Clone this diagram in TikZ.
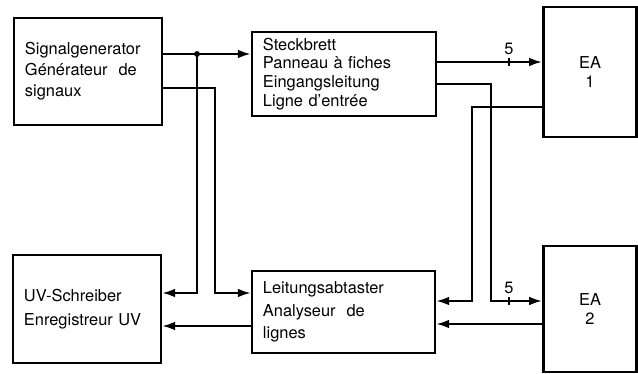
\documentclass[tikz,border=0pt]{standalone}
\usepackage{fontspec}
\setmainfont{TeX Gyre Heros}
\usetikzlibrary{arrows.meta}

\begin{document}
\begin{tikzpicture}[
            x=0.03cm, y=-0.03cm,
            box/.style={rectangle, draw=black, line width=2.5pt, inner xsep=0.33cm, inner ysep=0pt, align=left, font=\fontsize{14}{16}\selectfont},
            eabox/.style={rectangle, draw=black, line width=2.5pt, align=center, minimum width=2.8cm, font=\fontsize{14}{17}\selectfont},
            arrow/.style={-{Latex[length=0.38cm, width=0.26cm]}, line width=1.6pt},
            tick/.style={line width=1.6pt},
            num/.style={font=\fontsize{14}{16}\selectfont, inner sep=0pt}
        ]
        \useasboundingbox (0,0) rectangle (638,374);

        % Blocks
        \node[box, text width=3.78cm, minimum height=3.21cm] (sig) at (88,71.5) {Signalgenerator\\[2pt]G\'en\'erateur\ \ de\\[2pt]signaux};
        \node[box, text width=4.86cm, minimum height=2.52cm] (steck) at (344,74) {Steckbrett\\Panneau \`a fiches\\Eingangsleitung\\Ligne d’entr\'ee};
        \node[eabox, minimum height=3.9cm] (ea1) at (590,72) {EA\\1};
        \node[box, text width=3.78cm, minimum height=3.24cm] (uv) at (87,309) {UV-Schreiber\\[4pt]Enregistreur\ UV};
        \node[box, text width=4.83cm, minimum height=2.46cm] (leit) at (343.5,312) {Leitungsabtaster\\[3pt]Analyseur\ \ de\\[3pt]lignes};
        \node[eabox, minimum height=3.78cm] (ea2) at (590,309) {EA\\2};

        % Rows and columns of the lines
        \coordinate (r1) at (0,54);
        \coordinate (r2) at (0,88);
        \coordinate (r3) at (0,62);
        \coordinate (r4) at (0,84);
        \coordinate (r5) at (0,107);
        \coordinate (r6) at (0,293);
        \coordinate (r7) at (0,301);
        \coordinate (r8) at (0,326);
        \coordinate (r9) at (0,324);
        \coordinate (c1) at (197,0);
        \coordinate (c2) at (215,0);
        \coordinate (c3) at (472,0);
        \coordinate (c4) at (491,0);
        \coordinate (c5) at (509,0);

        % Arrows
        \draw[arrow] (sig.east |- r1) -- (steck.west |- r1);
        \fill (c1 |- r1) circle (2.5pt);
        \draw[arrow] (c1 |- r1) |- (uv.east |- r6);
        \draw[arrow] (sig.east |- r2) -| (c2 |- r6) -- (leit.west |- r6);
        \draw[arrow] (leit.west |- r8) -- (uv.east |- r8);
        \draw[arrow] (steck.east |- r3) -- (ea1.west |- r3);
        \draw[arrow] (steck.east |- r4) -| (c4 |- r7) -- (ea2.west |- r7);
        \draw[arrow] (ea1.west |- r5) -| (c3 |- r7) -- (leit.east |- r7);
        \draw[arrow] (ea2.west |- r9) -- (leit.east |- r9);

        % Bus width marks
        \draw[tick] (c5 |- r3) ++(0,-4) -- ++(0,8);
        \draw[tick] (c5 |- r7) ++(0,-4) -- ++(0,8);
        \node[num] (five1) at (509,49) {5};
        \node[num] (five2) at (509,288) {5};

        \end{tikzpicture}
\end{document}
